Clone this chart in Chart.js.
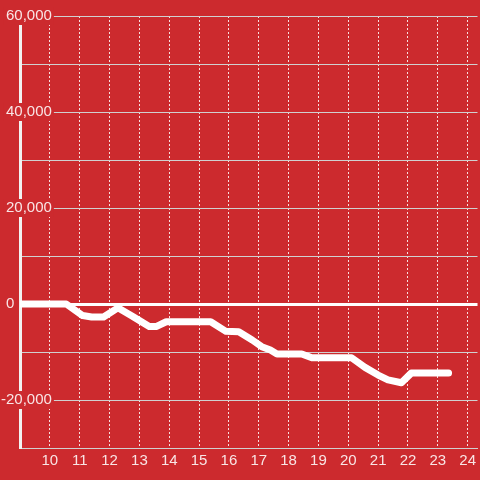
<!DOCTYPE html>
<html>
<head>
<meta charset="utf-8">
<script src="https://cdn.jsdelivr.net/npm/chart.js@4/dist/chart.umd.min.js"></script>
<style>
  html, body { margin: 0; padding: 0; background: #cc2a2e; }
  #wrap { width: 480px; height: 480px; }
</style>
</head>
<body>
<div id="wrap"><canvas id="c" width="480" height="480"></canvas></div>
<script>
// Data (x = hour of day, y = value)
const hours  = [9, 10.55, 11.1, 11.4, 11.8, 12.28, 12.78, 13.33, 13.56, 13.9, 15.39, 15.9, 16.33, 16.78, 17.1, 17.39, 17.61, 18.44, 18.78, 20.11, 20.56, 21.0, 21.33, 21.78, 22.11, 23.36];
const values = [0, 0, -2400, -2700, -2700, -800, -2600, -4700, -4700, -3700, -3700, -5700, -5800, -7500, -8900, -9600, -10400, -10400, -11200, -11200, -13200, -14800, -15800, -16400, -14400, -14400];
const xTickFirstLabel = 10;           // x labels from 10 to 24
const yLabelStep = 20000;             // y labels every 20,000
const yGridStep = 10000;              // y grid every 10,000

const points = hours.map((h, i) => ({ x: h, y: values[i] }));

const BG = '#cc2a2e';
const TXT = 'rgba(255,255,255,0.88)';
const FONT = { family: '"Liberation Sans", Arial, sans-serif', size: 15 };

new Chart(document.getElementById('c'), {
  type: 'line',
  data: {
    datasets: [{
      data: points,
      borderColor: '#ffffff',
      borderWidth: 7,
      pointRadius: 0,
      tension: 0,
      borderJoinStyle: 'round',
      borderCapStyle: 'round',
      fill: false
    }]
  },
  options: {
    responsive: false,
    animation: false,
    layout: { padding: { top: 16, right: 0, left: 0, bottom: 0 } },
    plugins: { legend: { display: false }, tooltip: { enabled: false } },
    scales: {
      x: {
        type: 'linear',
        min: 9,
        max: 24.33,
        afterFit: (s) => { s.height = 32; },
        ticks: {
          stepSize: 1,
          includeBounds: false,
          autoSkip: false,
          maxRotation: 0,
          color: TXT,
          font: FONT,
          padding: 4,
          callback: (v) => (v >= xTickFirstLabel ? String(v) : '')
        },
        grid: {
          color: 'rgba(255,255,255,0.85)',
          lineWidth: 1,
          drawTicks: false
        },
        border: { display: true, color: '#d0d0d0', width: 1, dash: [2, 2] }
      },
      y: {
        min: -30000,
        max: 60000,
        afterFit: (s) => { s.width = 20; },
        ticks: {
          stepSize: yGridStep,
          color: TXT,
          font: FONT,
          mirror: true,
          crossAlign: 'far',
          padding: -19,
          showLabelBackdrop: (ctx) => ctx.tick && ctx.tick.value % yLabelStep === 0 && ctx.tick.value !== 0,
          backdropColor: BG,
          backdropPadding: { left: 2, right: 2, top: 0, bottom: 0 },
          callback: (v) => {
            if (v % yLabelStep !== 0) return '';
            if (v === 0) return '0' + '\u00a0'.repeat(9);
            return v.toLocaleString('en-US');
          }
        },
        grid: {
          color: (ctx) => (ctx.tick && ctx.tick.value === 0 ? '#ffffff' : '#d0d0d0'),
          lineWidth: (ctx) => (ctx.tick && ctx.tick.value === 0 ? 3 : 1),
          drawTicks: false
        },
        border: { display: true, color: '#f2f2f2', width: 3 }
      }
    }
  }
});
</script>
</body>
</html>
